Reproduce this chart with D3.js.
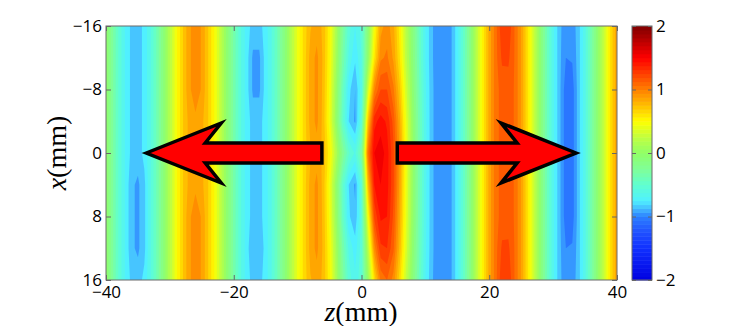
<!DOCTYPE html>
<html>
<head>
<meta charset="utf-8">
<script src="https://d3js.org/d3.v7.min.js"></script>
<style>
  body { margin: 0; background: #fff; }
  .tick text { font-family: "Open Sans", sans-serif; font-size: 17px; fill: #000; }
  .tick line { stroke: #666; }
  .lbl { font-family: "Liberation Serif", serif; font-size: 28px; fill: #000; }
</style>
</head>
<body>
<div id="chart"></div>
<script>
// grid positions (mm)
var zVals = [-40,-39,-38,-37,-36,-35,-34,-33,-32,-31,-30,-29,-28,-27,-26,-25,-24,-23,-22,-21,
  -20,-19,-18,-17,-16,-15,-14,-13,-12,-11,-10,-9,-8,-7,-6,-5,-4,-3,-2,-1,
  0,1,2,3,4,5,6,7,8,9,10,11,12,13,14,15,16,17,18,19,20,21,22,23,24,25,26,27,28,29,
  30,31,32,33,34,35,36,37,38,39,40];
var xVals = [-16, -12, -8, -4, 0, 4, 8, 12, 16];

// field values, one row per x position (z = -40 ... 40)
var rowXm16 = [0.00,-0.27,-0.52,-0.71,-0.83,-0.85,-0.77,-0.60,-0.37,-0.09,
  0.20,0.47,0.69,0.88,0.95,0.89,0.70,0.49,0.23,-0.06,
  -0.33,-0.57,-0.75,-0.84,-0.84,-0.75,-0.59,-0.36,-0.10,0.18,
  0.43,0.64,0.79,0.85,0.78,0.53,0.16,-0.24,-0.55,-0.70,
  -0.56,-0.09,0.45,0.86,0.95,0.83,0.55,0.20,-0.10,-0.42,
  -0.70,-0.88,-0.98,-1.00,-0.92,-0.74,-0.47,-0.15,0.21,0.55,
  0.84,1.06,1.28,1.28,1.09,0.89,0.61,0.28,-0.06,-0.39,
  -0.67,-0.87,-0.97,-0.96,-0.84,-0.63,-0.34,-0.02,0.29,0.62,
  0.88];
var rowXm12 = [0.00,-0.27,-0.52,-0.71,-0.83,-0.85,-0.77,-0.60,-0.37,-0.09,
  0.20,0.47,0.69,0.88,0.95,0.89,0.70,0.49,0.23,-0.06,
  -0.33,-0.57,-0.75,-0.92,-0.92,-0.75,-0.59,-0.36,-0.10,0.18,
  0.43,0.64,0.84,0.93,0.78,0.51,0.12,-0.30,-0.62,-0.78,
  -0.60,-0.02,0.58,0.98,1.02,0.88,0.60,0.23,-0.08,-0.41,
  -0.70,-0.88,-0.98,-1.00,-0.92,-0.74,-0.47,-0.15,0.21,0.55,
  0.84,1.06,1.22,1.22,1.09,0.89,0.61,0.28,-0.06,-0.39,
  -0.67,-0.87,-1.00,-0.99,-0.84,-0.63,-0.34,-0.02,0.29,0.62,
  0.88];
var rowXm8 = [0.00,-0.27,-0.52,-0.71,-0.83,-0.85,-0.77,-0.60,-0.37,-0.09,
  0.20,0.47,0.69,0.88,0.95,0.89,0.70,0.49,0.23,-0.06,
  -0.33,-0.57,-0.75,-0.92,-0.92,-0.75,-0.59,-0.36,-0.10,0.18,
  0.43,0.64,0.84,0.93,0.77,0.48,0.06,-0.40,-0.76,-0.90,
  -0.64,0.30,0.98,1.20,1.20,1.02,0.72,0.32,-0.04,-0.38,
  -0.68,-0.87,-0.98,-1.00,-0.92,-0.74,-0.47,-0.15,0.21,0.55,
  0.84,1.06,1.14,1.15,1.09,0.89,0.61,0.28,-0.06,-0.39,
  -0.67,-0.87,-1.06,-1.05,-0.84,-0.63,-0.34,-0.02,0.29,0.62,
  0.88];
var rowXm4 = [0.00,-0.27,-0.52,-0.71,-0.83,-0.85,-0.77,-0.60,-0.37,-0.09,
  0.20,0.47,0.69,0.83,0.88,0.83,0.70,0.49,0.23,-0.06,
  -0.33,-0.57,-0.75,-0.84,-0.84,-0.75,-0.59,-0.36,-0.10,0.18,
  0.43,0.64,0.84,0.93,0.76,0.45,0.02,-0.46,-0.80,-0.92,
  -0.55,0.72,1.36,1.45,1.38,1.16,0.82,0.40,0.01,-0.35,
  -0.67,-0.87,-0.98,-1.00,-0.92,-0.74,-0.47,-0.15,0.21,0.55,
  0.84,1.06,1.14,1.15,1.09,0.89,0.61,0.28,-0.06,-0.39,
  -0.67,-0.87,-1.06,-1.05,-0.84,-0.63,-0.34,-0.02,0.29,0.62,
  0.88];
var rowX0 = [0.00,-0.27,-0.52,-0.71,-0.83,-0.85,-0.77,-0.60,-0.37,-0.09,
  0.20,0.47,0.69,0.83,0.88,0.83,0.70,0.49,0.23,-0.06,
  -0.33,-0.57,-0.75,-0.84,-0.84,-0.75,-0.59,-0.36,-0.10,0.18,
  0.43,0.64,0.79,0.85,0.78,0.54,0.18,-0.20,-0.48,-0.62,
  -0.30,1.05,1.50,1.56,1.45,1.22,0.88,0.45,0.04,-0.34,
  -0.66,-0.87,-0.98,-1.00,-0.92,-0.74,-0.47,-0.15,0.21,0.55,
  0.84,1.06,1.14,1.15,1.09,0.89,0.61,0.28,-0.06,-0.39,
  -0.67,-0.87,-1.06,-1.05,-0.84,-0.63,-0.34,-0.02,0.29,0.62,
  0.88];
var rowX4 = [0.00,-0.27,-0.52,-0.71,-0.88,-0.92,-0.83,-0.60,-0.37,-0.09,
  0.20,0.47,0.69,0.83,0.88,0.83,0.70,0.49,0.23,-0.06,
  -0.33,-0.57,-0.75,-0.84,-0.84,-0.75,-0.59,-0.36,-0.10,0.18,
  0.43,0.64,0.84,0.93,0.76,0.45,0.02,-0.46,-0.80,-0.92,
  -0.55,0.75,1.40,1.50,1.44,1.22,0.86,0.42,0.02,-0.35,
  -0.67,-0.87,-0.98,-1.00,-0.92,-0.74,-0.47,-0.15,0.21,0.55,
  0.84,1.06,1.14,1.15,1.09,0.89,0.61,0.28,-0.06,-0.39,
  -0.67,-0.87,-1.06,-1.05,-0.84,-0.63,-0.34,-0.02,0.29,0.62,
  0.88];
var rowX8 = [0.00,-0.27,-0.52,-0.71,-0.88,-0.92,-0.83,-0.60,-0.37,-0.09,
  0.20,0.47,0.69,0.88,0.95,0.89,0.70,0.49,0.23,-0.06,
  -0.33,-0.57,-0.75,-0.84,-0.84,-0.75,-0.59,-0.36,-0.10,0.18,
  0.43,0.64,0.84,0.93,0.77,0.47,0.05,-0.42,-0.78,-0.88,
  -0.58,0.45,1.22,1.42,1.40,1.18,0.82,0.40,0.01,-0.36,
  -0.67,-0.87,-0.98,-1.00,-0.92,-0.74,-0.47,-0.15,0.21,0.55,
  0.84,1.06,1.14,1.15,1.09,0.89,0.61,0.28,-0.06,-0.39,
  -0.67,-0.87,-1.06,-1.05,-0.84,-0.63,-0.34,-0.02,0.29,0.62,
  0.88];
var rowX12 = [0.00,-0.27,-0.52,-0.71,-0.88,-0.92,-0.83,-0.60,-0.37,-0.09,
  0.20,0.47,0.69,0.88,0.95,0.89,0.70,0.49,0.23,-0.06,
  -0.33,-0.57,-0.75,-0.90,-0.90,-0.75,-0.59,-0.36,-0.10,0.18,
  0.43,0.64,0.84,0.93,0.78,0.51,0.12,-0.30,-0.62,-0.75,
  -0.55,0.20,0.95,1.28,1.30,1.12,0.76,0.35,-0.03,-0.38,
  -0.68,-0.87,-0.98,-1.00,-0.92,-0.74,-0.47,-0.15,0.21,0.55,
  0.84,1.06,1.22,1.22,1.09,0.89,0.61,0.28,-0.06,-0.39,
  -0.67,-0.87,-1.00,-0.99,-0.84,-0.63,-0.34,-0.02,0.29,0.62,
  0.88];
var rowX16 = [0.00,-0.27,-0.52,-0.71,-0.83,-0.85,-0.77,-0.60,-0.37,-0.09,
  0.20,0.47,0.69,0.88,0.95,0.89,0.70,0.49,0.23,-0.06,
  -0.33,-0.57,-0.75,-0.84,-0.84,-0.75,-0.59,-0.36,-0.10,0.18,
  0.43,0.64,0.79,0.85,0.78,0.53,0.16,-0.24,-0.54,-0.68,
  -0.52,0.02,0.62,1.02,1.10,0.96,0.64,0.26,-0.08,-0.41,
  -0.70,-0.88,-0.98,-1.00,-0.92,-0.74,-0.47,-0.15,0.21,0.55,
  0.84,1.06,1.28,1.28,1.09,0.89,0.61,0.28,-0.06,-0.39,
  -0.67,-0.87,-0.97,-0.96,-0.84,-0.63,-0.34,-0.02,0.29,0.62,
  0.88];
var field = [rowXm16, rowXm12, rowXm8, rowXm4, rowX0, rowX4, rowX8, rowX12, rowX16];

// tick labels
var zTicks = [-40, -20, 0, 20, 40];
var xTicks = [-16, -8, 0, 8, 16];
var cbTicks = [-2, -1, 0, 1, 2];

// colormap (jet-like)
var cmapVals = [-2.0, -1.5, -1.25, -1.0, -0.88, -0.75, -0.5, -0.25, 0.0, 0.25, 0.5, 0.75, 1.0, 1.25, 1.5, 1.75, 2.0];
var cmapColors = ["#0000e0", "#1030ff", "#2050ff", "#2c80ff", "#44b8ff", "#50f0ff", "#60ffd0", "#80ff98", "#90ff68",
  "#c0ff40", "#ffff00", "#ffbf00", "#ff8000", "#ff4000", "#ff0000", "#bf0000", "#800000"];

// arrows along x = 0: tail and tip positions in z (mm)
var arrowTail = [-6.2, 5.6];
var arrowTip = [-33.7, 33.6];

var W = 748, H = 326;
var svg = d3.select("#chart").append("svg").attr("width", W).attr("height", H);

var x = d3.scaleLinear().domain([-40, 40]).range([106, 617]);
var y = d3.scaleLinear().domain([-16, 16]).range([26, 280]);
var color = d3.scaleLinear().domain(cmapVals).range(cmapColors).clamp(true);

// filled contours
var nz = zVals.length, nx = xVals.length;
var values = [];
field.forEach(function (r) { r.forEach(function (v) { values.push(v); }); });

// find where d3.contours puts the samples (pixel corners or centers)
var probe = d3.contours().size([2, 1]).thresholds([0.5])([0, 1])[0];
var minX = Infinity;
probe.coordinates.forEach(function (poly) { poly.forEach(function (ring) { ring.forEach(function (p) { minX = Math.min(minX, p[0]); }); }); });
var off = minX - 0.5;

var colZ = d3.scaleLinear().domain([0, nz - 1]).range([zVals[0], zVals[nz - 1]]);
var rowX = d3.scaleLinear().domain([0, nx - 1]).range([xVals[0], xVals[nx - 1]]);
var proj = d3.geoTransform({
  point: function (px, py) { this.stream.point(x(colZ(px - off)), y(rowX(py - off))); }
});
var path = d3.geoPath(proj);

var step = 0.1;
var levels = d3.range(-20, 20).map(function (i) { return i * step; });
var bands = d3.contours().size([nz, nx]).thresholds(levels)(values);

svg.append("clipPath").attr("id", "clip")
  .append("rect").attr("x", 106).attr("y", 26).attr("width", 511).attr("height", 254);

svg.append("g").attr("clip-path", "url(#clip)")
  .selectAll("path").data(bands).join("path")
  .attr("d", path)
  .attr("fill", function (d) { return color(d.value + step / 2); })
  .attr("stroke", "none");

// axes
var frameColor = "#6b6b6b";
svg.append("g").attr("transform", "translate(0,280)")
  .call(d3.axisBottom(x).tickValues(zTicks).tickSizeInner(-5).tickSizeOuter(0).tickPadding(6))
  .call(function (g) { g.select(".domain").remove(); });
svg.append("g").attr("transform", "translate(0,26)")
  .call(d3.axisTop(x).tickValues(zTicks).tickSizeInner(-5).tickSizeOuter(0).tickFormat(""))
  .call(function (g) { g.select(".domain").remove(); });
svg.append("g").attr("transform", "translate(106,0)")
  .call(d3.axisLeft(y).tickValues(xTicks).tickSizeInner(-5).tickSizeOuter(0).tickPadding(4))
  .call(function (g) { g.select(".domain").remove(); });
svg.append("g").attr("transform", "translate(617,0)")
  .call(d3.axisRight(y).tickValues(xTicks).tickSizeInner(-5).tickSizeOuter(0).tickFormat(""))
  .call(function (g) { g.select(".domain").remove(); });

svg.append("rect").attr("x", 106).attr("y", 26).attr("width", 511).attr("height", 254)
  .attr("fill", "none").attr("stroke", frameColor).attr("stroke-width", 1);

// arrows
var shaftHalf = 10, headBack = 75, notchBack = 59, barbHalf = 30;
svg.append("g").selectAll("path").data(arrowTip).join("path")
  .attr("d", function (tip, i) {
    var t = x(tip), e = x(arrowTail[i]), c = y(0), s = t < e ? 1 : -1;
    var pts = [[t, c], [t + s * headBack, c - barbHalf], [t + s * notchBack, c - shaftHalf],
      [e, c - shaftHalf], [e, c + shaftHalf], [t + s * notchBack, c + shaftHalf],
      [t + s * headBack, c + barbHalf]];
    return d3.line()(pts) + "Z";
  })
  .attr("fill", "#ff0000").attr("stroke", "#000").attr("stroke-width", 3.5)
  .attr("stroke-linejoin", "miter").attr("stroke-miterlimit", 10);

// colorbar
var cbX = 632, cbW = 20;
var cbY = d3.scaleLinear().domain([-2, 2]).range([280, 26]);
var nSteps = 64, dv = 4 / nSteps;
svg.append("g").selectAll("rect").data(d3.range(nSteps)).join("rect")
  .attr("x", cbX).attr("width", cbW)
  .attr("y", function (i) { return cbY(-2 + (i + 1) * dv); })
  .attr("height", function (i) { return cbY(-2 + i * dv) - cbY(-2 + (i + 1) * dv) + 0.5; })
  .attr("fill", function (i) { return color(-2 + (i + 0.5) * dv); });
svg.append("g").attr("transform", "translate(" + (cbX + cbW) + ",0)")
  .call(d3.axisRight(cbY).tickValues(cbTicks).tickSizeInner(-4).tickSizeOuter(0).tickPadding(4).tickFormat(d3.format("d")))
  .call(function (g) { g.select(".domain").remove(); });
svg.append("g").attr("transform", "translate(" + cbX + ",0)")
  .call(d3.axisLeft(cbY).tickValues(cbTicks).tickSizeInner(-4).tickSizeOuter(0).tickFormat(""))
  .call(function (g) { g.select(".domain").remove(); });
svg.append("rect").attr("x", cbX).attr("y", 26).attr("width", cbW).attr("height", 254)
  .attr("fill", "none").attr("stroke", frameColor).attr("stroke-width", 1);

// axis titles
var xl = svg.append("text").attr("class", "lbl").attr("x", 361).attr("y", 321).attr("text-anchor", "middle");
xl.append("tspan").attr("font-style", "italic").text("z");
xl.append("tspan").text("(mm)");

var yl = svg.append("text").attr("class", "lbl").attr("text-anchor", "middle")
  .attr("transform", "translate(66,153) rotate(-90)");
yl.append("tspan").attr("font-style", "italic").text("x");
yl.append("tspan").text("(mm)");
</script>
</body>
</html>
